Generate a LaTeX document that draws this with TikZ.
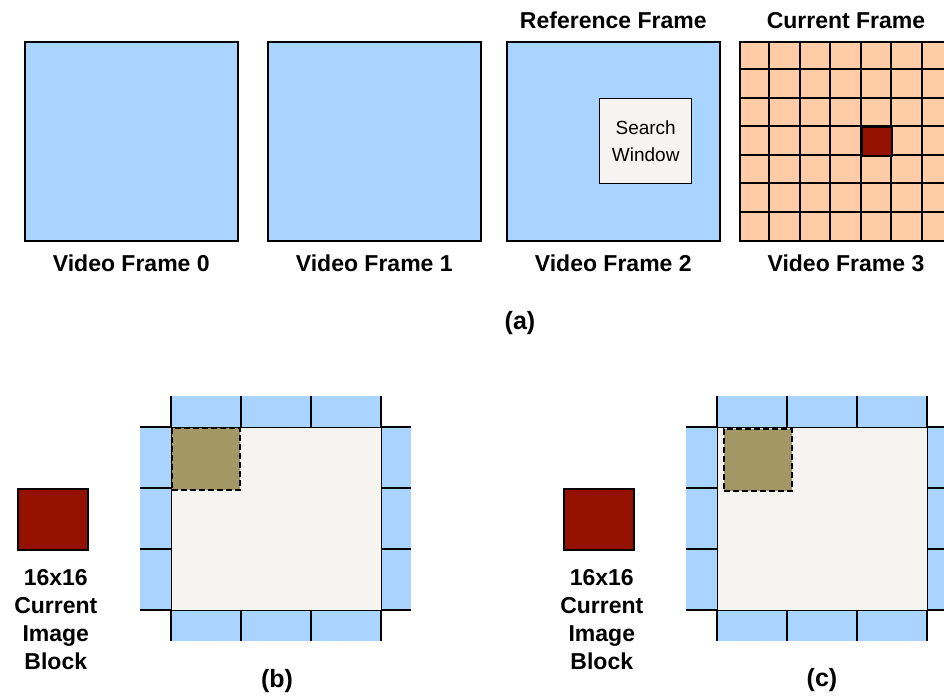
\documentclass[tikz,border=0pt]{standalone}
\usepackage{fontspec}
\setmainfont{Liberation Sans}
\usetikzlibrary{positioning}

\definecolor{frameblue}{RGB}{169,212,255}
\definecolor{peach}{RGB}{255,204,168}
\definecolor{blockred}{RGB}{148,17,0}
\definecolor{olive}{RGB}{163,151,102}
\definecolor{winwhite}{RGB}{245,244,240}

\tikzset{
  vframe/.style={draw, line width=1.6pt, fill=frameblue, minimum width=213pt, minimum height=199pt, anchor=north west, inner sep=0pt},
  lbl/.style={font=\bfseries\fontsize{23}{28}\selectfont, align=center, inner sep=0pt},
  gridline/.style={line width=1.9pt},
  tileline/.style={line width=1.9pt},
}

\begin{document}
\begin{tikzpicture}[x=1pt, y=-1pt]
\clip (0,0) rectangle (944,696);
\fill[white] (0,0) rectangle (944,696);

% (a) video frames
\node (f0) [vframe] at (24,41) {};
\node (f1) [vframe] at (267,41) {};
\node (f2) [vframe] at (506,41) {};
\node (f3) [vframe, fill=peach] at (739,41) {};

\node (l0) [lbl, below=13pt of f0] {Video Frame 0};
\node (l1) [lbl, below=13pt of f1] {Video Frame 1};
\node (l2) [lbl, below=13pt of f2] {Video Frame 2};
\node (l3) [lbl, below=13pt of f3.south west, anchor=north, xshift=107pt] {Video Frame 3};
\node (ref) [lbl, above=12pt of f2] {Reference Frame};
\node (cur) [lbl, above=12pt of f3.north west, anchor=south, xshift=107pt] {Current Frame};

\node (sw) [draw, line width=1.4pt, fill=winwhite, minimum width=92pt, minimum height=85pt, anchor=north west, inner sep=0pt, align=center, font=\fontsize{19}{27}\selectfont] at (599,98) {Search\\Window};

% grid of the current frame
\foreach \i in {1,...,6} {
  \draw[gridline] (739+30.43*\i,41) -- ++(0,199);
  \draw[gridline] (739,41+28.43*\i) -- ++(213,0);
}
\node (blk) [draw, line width=1.9pt, fill=blockred, minimum width=30.43pt, minimum height=28.43pt, anchor=north west, inner sep=0pt] at (739+4*30.43,41+3*28.43) {};

\node (a) [lbl, font=\bfseries\fontsize{25}{30}\selectfont] at (520,323) {(a)};

% (b) and (c) search windows
\foreach \p/\dx/\sx/\sy in {b/0/0/0, c/546/6/1} {
  \fill[frameblue] (171+\dx,396) rectangle (381+\dx,427);
  \fill[frameblue] (171+\dx,610) rectangle (381+\dx,641);
  \fill[frameblue] (140+\dx,427) rectangle (171+\dx,610);
  \fill[frameblue] (381+\dx,427) rectangle (411+\dx,610);
  \foreach \t in {0,70,140,210} {
    \draw[tileline] (171+\dx+\t,396) -- ++(0,31);
    \draw[tileline] (171+\dx+\t,610) -- ++(0,31);
  }
  \foreach \t in {0,61,122,183} {
    \draw[tileline] (140+\dx,427+\t) -- ++(31,0);
    \draw[tileline] (381+\dx,427+\t) -- ++(30,0);
  }
  \node (win\p) [draw, line width=1.3pt, fill=winwhite, minimum width=210pt, minimum height=183pt, anchor=north west, inner sep=0pt] at (171+\dx,427) {};
  \node (sq\p) [draw, line width=1.8pt, dash pattern=on 6pt off 3pt, fill=olive, minimum width=68pt, minimum height=62pt, anchor=north west, inner sep=0pt] at (171+\dx+\sx,427+\sy) {};
  \node (cb\p) [draw, line width=1.6pt, fill=blockred, minimum width=70pt, minimum height=61pt, anchor=north west, inner sep=0pt] at (17+\dx,488) {};
  \node (ct\p) [lbl, below=19pt of cb\p, xshift=3pt] {16x16\\Current\\Image\\Block};
}

\node (pb) [lbl, font=\bfseries\fontsize{25}{30}\selectfont] at (277,681) {(b)};
\node (pc) [lbl, font=\bfseries\fontsize{25}{30}\selectfont] at (822,680) {(c)};
\end{tikzpicture}
\end{document}
